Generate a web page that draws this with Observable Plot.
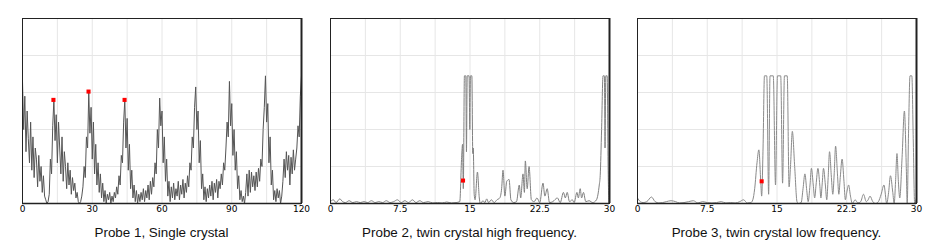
<!DOCTYPE html>
<html><head><meta charset="utf-8">
<script src="https://cdn.jsdelivr.net/npm/d3@7"></script>
<script src="https://cdn.jsdelivr.net/npm/@observablehq/plot@0.6"></script>
<style>
body{margin:0;background:#fff;width:950px;height:251px;position:relative;overflow:hidden;font-family:"Liberation Sans",Arial,sans-serif}
.panel{position:absolute;top:0}
.cap{position:absolute;top:225px;width:279px;font-size:13.4px;text-align:center;color:#111;white-space:nowrap}
</style></head><body>
<div id="p1" class="panel" style="left:0px"></div>
<div id="p2" class="panel" style="left:308px"></div>
<div id="p3" class="panel" style="left:615px"></div>
<div class="cap" style="left:22px">Probe 1, Single crystal</div>
<div class="cap" style="left:330px">Probe 2, twin crystal high frequency.</div>
<div class="cap" style="left:637px">Probe 3, twin crystal low frequency.</div>
<script>
// ---------- data ----------
const titles = ["Probe 1, Single crystal", "Probe 2, twin crystal high frequency.", "Probe 3, twin crystal low frequency."];

// Probe 1: samples every 0.5 from 0 to 120
const p1Step = 0.5;
const p1Y = [
66,40,58,28,50,35,22,44,18,36,14,30,24,9,26,12,20,6,15,4,
2,0,1,5,24,16,42,56,34,48,22,44,30,16,36,12,28,20,8,22,
10,18,5,14,7,11,3,6,1,0,1,4,9,20,14,36,30,60,38,52,
24,44,16,32,10,22,6,16,3,11,1,7,0,5,2,6,0,4,1,6,
3,9,5,15,10,26,22,44,56,30,46,18,32,8,18,3,10,1,7,0,
5,1,6,2,8,1,7,3,10,2,12,5,14,9,22,16,40,30,57,42,
50,22,36,12,24,4,12,1,9,3,11,2,8,4,12,2,10,5,13,3,
11,6,15,9,22,18,36,30,52,63,40,50,22,34,8,16,2,9,1,8,
3,10,4,12,2,11,6,13,3,12,8,16,10,22,18,30,44,36,66,42,
54,26,40,18,28,8,15,2,7,1,4,0,6,16,4,18,6,17,9,15,
7,17,9,19,12,24,20,40,52,69,44,54,22,36,10,18,2,7,1,8,
3,7,0,4,12,24,14,28,18,26,10,25,16,29,18,24,30,42,36,58,
69
];
const p1Markers = [[13.3, 56], [28.4, 60.5], [43.9, 56]];

// Probe 2
const p2X = [0,0.3,0.6,1.0,1.3,1.6,2.0,2.4,2.8,3.2,3.6,4.0,4.4,4.8,5.2,5.6,6.0,6.4,6.8,7.2,7.6,8.0,8.4,8.8,9.2,9.6,10.0,10.5,11.0,11.5,12.0,12.5,13.0,13.5,13.9,
  14.1,14.2,14.28,14.4,14.55,14.62,14.7,14.9,14.98,15.05,15.2,15.3,15.35,15.45,15.55,15.8,16.0,16.1,16.4,16.6,16.8,17.0,17.3,17.6,17.9,18.2,18.4,18.55,18.75,18.95,19.2,19.4,19.7,20.0,20.3,20.45,20.7,20.85,20.95,21.15,21.35,21.6,21.9,22.2,22.5,22.85,23.05,23.3,23.55,23.9,24.4,24.7,25.05,25.25,25.45,25.7,26.0,26.2,26.5,26.65,26.85,27.0,27.2,27.45,27.8,28.2,28.6,28.9,29.0,29.15,29.3,29.45,29.52,29.6,29.75,29.85,29.95,30.0];
const p2Y = [1,2,0.5,2.5,1,0.5,1.5,0.5,1,0.5,1,0.5,1.5,0.5,1,0.5,1.5,0.5,1,2,0.5,1.5,0.5,2,0.5,1.5,0.5,1,0.3,0.5,0.3,0.8,0.3,0.5,1,
  25,32,8,69,69,28,69,69,40,69,69,27,30,5,2,17,3,0,1.5,0.5,2.5,0.5,2,0.5,2,3,8,18,4,12,13,2,0.5,1,10,3,16,6,23,8,20,2,1,3,0.5,11,4,8,0.5,1,3,0.5,6,3,6,1,2,0.5,6,3,8,3,6,1,1.5,0.5,2,10,15,40,69,69,30,69,69,20,0,44];
const p2Markers = [[14.25, 12.4]];

// Probe 3
const p3X = [0,0.3,0.6,1.0,1.5,1.9,2.3,2.7,3.1,3.6,4.1,4.5,5.0,5.5,6.0,6.5,7.0,7.5,8.0,8.5,9.0,9.5,10.0,10.5,11.0,11.4,11.8,12.2,12.4,12.6,12.85,13.05,13.25,13.35,13.5,
  13.65,13.9,14.1,14.25,14.6,14.84,15.05,15.4,15.6,15.8,16.1,16.3,16.45,16.65,16.9,17.15,17.3,17.6,17.8,18.0,18.2,18.35,18.55,18.7,18.9,19.05,19.2,19.4,19.6,19.72,19.85,20.0,20.2,20.35,20.5,20.65,20.85,21.0,21.15,21.3,21.5,21.65,21.8,22.0,22.2,22.35,22.5,22.7,22.9,23.1,23.4,23.7,24.0,24.3,24.6,24.8,25.0,25.3,25.6,25.9,26.2,26.5,26.8,27.0,27.2,27.45,27.6,27.75,27.9,28.05,28.2,28.45,28.7,28.9,29.0,29.15,29.3,29.5,29.65,29.8,30.0];
const p3Y = [3,1,0.5,1,3.5,1,0.3,0.5,1,1.5,1,0.3,0.5,1,1.5,0.3,1,0.5,0.3,0.5,1,0.3,0.5,0.3,1,2,0.3,0.5,2,8,22,29,12,4,30,
  69,69,5,69,69,10,69,69,11,69,69,9,20,39,20,1,0,0.5,8,16,7,1,10,19,10,3,10,19,10,3,10,19,10,2,14,28,14,5,16,31,16,5,14,24,12,2,6,10,4,0,2,0.3,1,5,1,2,4,1,0,1,5,10,0,6,15,6,0,12,27,12,3,25,50,20,0,40,69,69,35,0,3];
const p3Markers = [[13.35, 12]];

const panels = [
  {id:"p1", xs: p1Y.map((_, i) => i * p1Step), ys: p1Y, xMax:120, ticks:[0,30,60,90,120], gridStep:15, markers:p1Markers, curve:"linear", color:"#555"},
  {id:"p2", xs: p2X, ys: p2Y, xMax:30, ticks:[0,7.5,15,22.5,30], gridStep:3.75, markers:p2Markers, curve:"monotone-x", color:"#808080"},
  {id:"p3", xs: p3X, ys: p3Y, xMax:30, ticks:[0,7.5,15,22.5,30], gridStep:3.75, markers:p3Markers, curve:"monotone-x", color:"#8a8a8a"}
];
const yGrid = [20,40,60,80];

for (const p of panels) {
  const data = p.xs.map((x, i) => ({x, y: p.ys[i]}));
  const gridX = d3.range(1, 8).map(k => k * p.gridStep);
  const chart = Plot.plot({
    width: 320, height: 215,
    marginTop: 18, marginBottom: 12, marginLeft: 22, marginRight: 19,
    style: {fontFamily: "'DejaVu Sans', Verdana, sans-serif", fontSize: "9px", background: "none", color: "#000", overflow: "visible"},
    x: {domain: [0, p.xMax], ticks: p.ticks, tickSize: 0, tickPadding: 2, tickFormat: d => String(d), label: null},
    y: {domain: [0, 100], axis: null},
    marks: [
      Plot.ruleX(gridX, {stroke: "#e6e6e6", strokeWidth: 1}),
      Plot.ruleY(yGrid, {stroke: "#e6e6e6", strokeWidth: 1}),
      Plot.line(data, {x: "x", y: "y", stroke: p.color, strokeWidth: 1, curve: p.curve, clip: true}),
      Plot.dot(p.markers, {x: d => d[0], y: d => d[1], symbol: "square", r: 2.3, fill: "#ff0000", stroke: "none"}),
      Plot.frame({stroke: "#222", strokeWidth: 1}),
      Plot.ruleX([p.xMax], {stroke: "#222", strokeWidth: 2}),
      Plot.ruleY([0], {stroke: "#222", strokeWidth: 1.5})
    ]
  });
  document.getElementById(p.id).appendChild(chart);
}
</script>
</body></html>
